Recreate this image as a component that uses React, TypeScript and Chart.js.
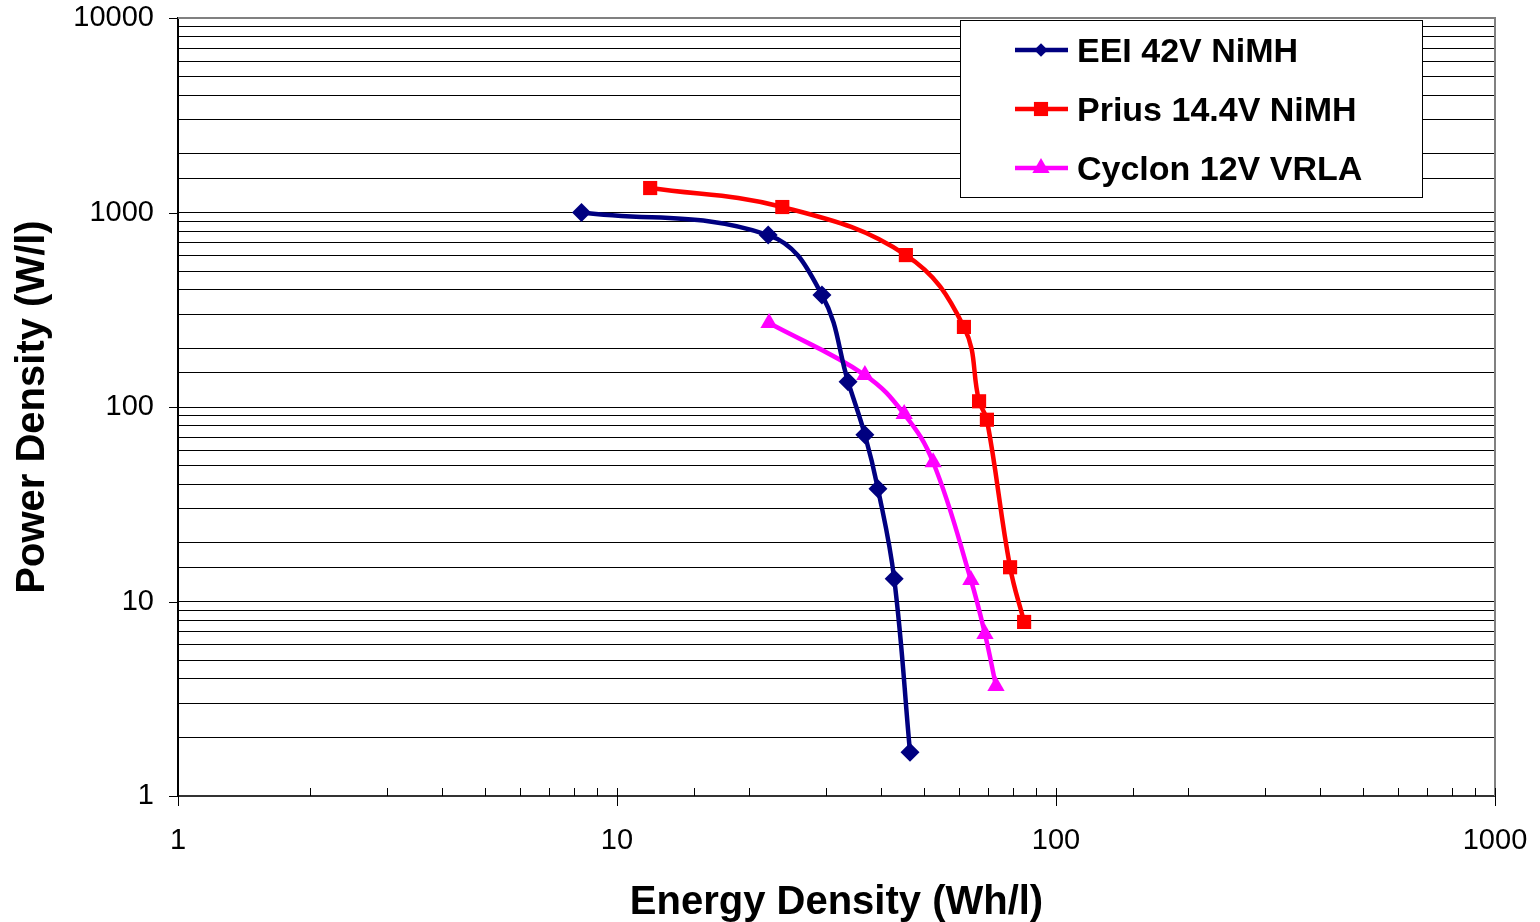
import React, { useEffect, useRef } from 'react';
import { Chart, registerables } from 'chart.js';

Chart.register(...registerables);

const seriesNames = ['EEI 42V NiMH', 'Prius 14.4V NiMH', 'Cyclon 12V VRLA'];
const seriesColors = ['#000080', '#FF0000', '#FF00FF'];
const seriesMarkers = ['rectRot', 'rect', 'triangle'];
const seriesRadius = [9.5, 10, 10];

const eeiX = [8.3, 22.1, 29.3, 33.6, 36.7, 39.3, 42.8, 46.5];
const eeiY = [1000, 766, 377, 135, 72, 38, 13.1, 1.68];
const priusX = [11.9, 23.8, 45.5, 61.7, 66.8, 69.6, 78.6, 84.6];
const priusY = [1336, 1067, 604, 258, 107, 86, 15, 7.85];
const cyclonX = [22.2, 36.7, 45.1, 52.5, 64.0, 68.9, 73.0];
const cyclonY = [270, 146, 92, 52, 12.9, 6.8, 3.68];

const xTickLabels = [1, 10, 100, 1000];
const yTickLabels = [1, 10, 100, 1000, 10000];

const xTitle = 'Energy Density (Wh/l)';
const yTitle = 'Power Density (W/l)';

const FONT = "Arial, 'Liberation Sans', sans-serif";

const isMajor = (v: number) => {
  const l = Math.log10(v);
  return Math.abs(l - Math.round(l)) < 1e-9;
};

function drawMarker(ctx: CanvasRenderingContext2D, style: string, x: number, y: number, r: number) {
  ctx.beginPath();
  if (style === 'rectRot') {
    const s = r * Math.SQRT1_2;
    ctx.moveTo(x - s, y);
    ctx.lineTo(x, y + s);
    ctx.lineTo(x + s, y);
    ctx.lineTo(x, y - s);
  } else if (style === 'rect') {
    const s = r * Math.SQRT1_2;
    ctx.rect(x - s, y - s, 2 * s, 2 * s);
  } else {
    const a = (-90 * Math.PI) / 180;
    for (let i = 0; i < 3; i++) {
      const ang = a + (i * 2 * Math.PI) / 3;
      const px = x + Math.cos(ang) * r;
      const py = y + Math.sin(ang) * r;
      if (i === 0) ctx.moveTo(px, py);
      else ctx.lineTo(px, py);
    }
  }
  ctx.closePath();
  ctx.fill();
}

const decorPlugin = {
  id: 'decor',
  afterDraw(chart: any) {
    const { ctx, chartArea: a, scales } = chart;
    const xs = scales.x;
    const ys = scales.y;
    ctx.save();
    // top & right frame
    ctx.strokeStyle = '#808080';
    ctx.lineWidth = 2;
    ctx.beginPath();
    ctx.moveTo(a.left, a.top);
    ctx.lineTo(a.right, a.top);
    ctx.lineTo(a.right, a.bottom);
    ctx.stroke();

    // x ticks
    ctx.strokeStyle = '#000';
    ctx.lineWidth = 1;
    xs.ticks.forEach((t: any) => {
      const px = Math.round(xs.getPixelForValue(t.value)) + 0.5;
      const major = isMajor(t.value);
      ctx.beginPath();
      ctx.moveTo(px, a.bottom - 8);
      ctx.lineTo(px, major ? a.bottom + 10 : a.bottom);
      ctx.stroke();
    });
    // y major ticks
    ys.ticks.forEach((t: any) => {
      if (!isMajor(t.value)) return;
      const py = Math.round(ys.getPixelForValue(t.value)) + 0.5;
      ctx.beginPath();
      ctx.moveTo(a.left - 9, py);
      ctx.lineTo(a.left, py);
      ctx.stroke();
    });

    // legend box
    const bx = 960, by = 20, bw = 462, bh = 177;
    ctx.fillStyle = '#fff';
    ctx.fillRect(bx, by, bw, bh);
    ctx.strokeStyle = '#000';
    ctx.lineWidth = 1;
    ctx.strokeRect(bx + 0.5, by + 0.5, bw, bh);
    const rows = [50, 109, 168];
    chart.data.datasets.forEach((ds: any, i: number) => {
      const y = rows[i];
      ctx.strokeStyle = ds.borderColor;
      ctx.lineWidth = 4.5;
      ctx.beginPath();
      ctx.moveTo(1015, y);
      ctx.lineTo(1068, y);
      ctx.stroke();
      ctx.fillStyle = ds.borderColor;
      drawMarker(ctx, ds.pointStyle, 1041, y, ds.pointRadius);
      ctx.fillStyle = '#000';
      ctx.font = `bold 34px ${FONT}`;
      ctx.textBaseline = 'middle';
      ctx.textAlign = 'left';
      ctx.fillText(ds.label, 1077, y + 3);
    });
    ctx.restore();
  },
};

const mk = (xsArr: number[], ysArr: number[]) => xsArr.map((x, i) => ({ x, y: ysArr[i] }));

export default function App() {
  const ref = useRef<HTMLCanvasElement | null>(null);
  useEffect(() => {
    if (!ref.current) return;
    const data = [mk(eeiX, eeiY), mk(priusX, priusY), mk(cyclonX, cyclonY)];
    const chart = new Chart(ref.current, {
      type: 'line',
      data: {
        datasets: data.map((d, i) => ({
          label: seriesNames[i],
          data: d,
          borderColor: seriesColors[i],
          backgroundColor: seriesColors[i],
          pointBackgroundColor: seriesColors[i],
          pointBorderColor: seriesColors[i],
          pointBorderWidth: 0,
          pointStyle: seriesMarkers[i] as any,
          pointRadius: seriesRadius[i],
          borderWidth: 4.5,
          tension: 0.4,
          fill: false,
        })),
      },
      options: {
        responsive: false,
        animation: false,
        devicePixelRatio: 1,
        layout: { padding: { top: 18, right: 45, left: 0, bottom: 0 } },
        plugins: { legend: { display: false }, tooltip: { enabled: false } },
        scales: {
          x: {
            type: 'logarithmic',
            min: 1,
            max: 1000,
            afterFit: (s: any) => {
              s.height = 126;
              s.paddingLeft = 0;
              s.paddingRight = 0;
            },
            grid: { display: false, drawTicks: false },
            border: { display: true, color: '#333', width: 2 },
            ticks: {
              autoSkip: false,
              maxRotation: 0,
              padding: 28,
              color: '#000',
              font: { family: FONT, size: 29 },
              callback: (v: any) => (xTickLabels.includes(Number(v)) ? String(v) : ''),
            },
            title: {
              display: true,
              text: xTitle,
              color: '#000',
              font: { family: FONT, size: 40, weight: 'bold' },
              padding: { top: 0, bottom: -5 },
            },
          },
          y: {
            type: 'logarithmic',
            min: 1,
            max: 10000,
            afterFit: (s: any) => {
              s.width = 178;
              s.paddingTop = 0;
              s.paddingBottom = 0;
            },
            grid: { display: true, drawTicks: false, color: '#000', lineWidth: 1 },
            border: { display: true, color: '#000', width: 2 },
            ticks: {
              autoSkip: false,
              padding: 24,
              color: '#000',
              font: { family: FONT, size: 29 },
              callback: (v: any) => (yTickLabels.includes(Number(v)) ? String(v) : ''),
            },
            title: {
              display: true,
              text: yTitle,
              color: '#000',
              font: { family: FONT, size: 40, weight: 'bold' },
              padding: { top: 9, bottom: 0 },
            },
          },
        },
      },
      plugins: [decorPlugin],
    });
    return () => chart.destroy();
  }, []);
  return (
    <div style={{ position: 'fixed', left: 0, top: 0, width: 1540, height: 922, background: '#fff' }}>
      <canvas ref={ref} width={1540} height={922} />
    </div>
  );
}
